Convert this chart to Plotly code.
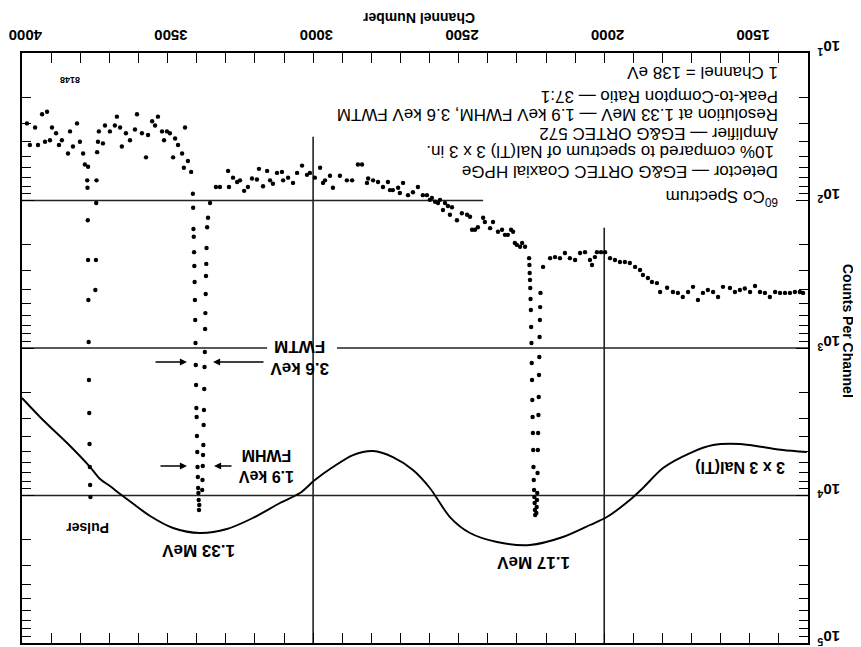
import plotly.graph_objects as go

# ---------------- data ----------------
# 60Co spectrum, HPGe detector: continuum points (channel, counts per channel)
cont_ch = [3983, 3973, 3955, 3945, 3931, 3921, 3914, 3904, 3897, 3883, 3873, 3863, 3842, 3835,
           3825, 3811, 3801, 3790, 3784, 3773,
           3742, 3739, 3736, 3722, 3715, 3698, 3681, 3674, 3663, 3657, 3643, 3629, 3612, 3605,
           3588, 3574, 3567, 3553, 3543, 3533, 3519, 3512, 3502, 3492, 3481, 3474, 3464, 3450,
           3444, 3440, 3430, 3419,
           3334, 3320, 3292, 3289, 3275, 3261, 3251, 3237, 3224, 3210, 3193, 3186, 3172, 3158,
           3148, 3138, 3124, 3107, 3103, 3086, 3069, 3055, 3038, 3021, 3011, 2994, 2976, 2966,
           2959, 2942, 2932, 2908, 2884, 2866, 2846, 2832, 2815, 2811, 2794, 2777, 2760, 2743,
           2736, 2726, 2708, 2702, 2691, 2674, 2657, 2640, 2623, 2609, 2599, 2592, 2581, 2571,
           2564, 2554, 2547, 2537, 2530, 2523, 2506, 2489, 2471, 2461, 2454, 2444, 2434, 2416,
           2410, 2392, 2382, 2365, 2351, 2341, 2331, 2320, 2313, 2307, 2300, 2289, 2282, 2272,
           2210, 2186, 2169, 2152, 2135, 2118, 2100, 2083, 2066, 2049, 2042, 2032, 2025, 2011,
           1997, 1980, 1963, 1946, 1929, 1912, 1894, 1877, 1867, 1850, 1836, 1819,
           1808, 1784, 1764, 1747, 1730, 1712, 1695, 1678, 1661, 1644, 1626, 1609, 1592, 1568,
           1551, 1534, 1517, 1499, 1482, 1465, 1448, 1431, 1413, 1396, 1379, 1362, 1345, 1328,
           1317]
cont_counts = [30, 42, 32, 42, 26, 40, 25, 39, 32, 35, 42, 39, 48, 34,
               43, 30, 40, 48, 57, 59,
               47, 40, 34, 41, 31, 34, 31, 27, 32, 43, 35, 39, 33, 26,
               35, 51, 36, 29, 31, 27, 34, 39, 34, 35, 51, 38, 42, 48,
               60, 32, 54, 64,
               81, 81, 63, 81, 70, 75, 73, 86, 81, 71, 72, 61, 80, 63,
               73, 77, 65, 64, 73, 70, 76, 65, 58, 67, 65, 70, 60, 76,
               73, 68, 82, 68, 73, 73, 57, 57, 76, 71, 73, 75, 81, 75,
               85, 85, 82, 89, 76, 92, 88, 81, 92, 92, 99, 96, 102, 104,
               99, 116, 104, 109, 125, 111, 136, 122, 125, 129, 158, 158, 152, 131,
               140, 154, 140, 163, 158, 171, 171, 158, 163, 194, 200, 206, 194, 206,
               282, 246, 242, 246, 227, 246, 253, 227, 224, 253, 274, 242, 224, 224,
               224, 246, 253, 261, 261, 265, 282, 296, 320, 335, 357, 363,
               417, 390, 417, 423, 451, 417, 385, 473, 423, 404, 417, 451, 385, 392,
               417, 404, 395, 417, 380, 417, 423, 451, 417, 423, 423, 423, 417, 417,
               423]

# pulser peak
pulser_ch = [3776, 3775, 3774, 3773, 3772, 3771, 3770, 3769, 3768, 3767, 3766, 3765,
             3748, 3746, 3745, 3744]
pulser_counts = [73, 82, 136, 253, 473, 911, 1648, 2760, 4480, 6410, 8490, 10250,
                 404, 253, 104, 73]

# 1.33 MeV peak
peak133_ch = [3413, 3412, 3411, 3410, 3409, 3408, 3407, 3406, 3405, 3404, 3403, 3402, 3401,
              3400, 3399, 3398, 3397, 3396, 3395, 3394, 3393, 3392, 3391,
              3381, 3380, 3379, 3378, 3377, 3376, 3375, 3374, 3373, 3372, 3371, 3370, 3369,
              3368, 3367, 3366, 3364, 3361, 3354]
peak133_counts = [90, 112, 156, 176, 224, 278, 357, 473, 646, 925, 1304, 1782, 2553,
                  2938, 3951, 5073, 6414, 7497, 8897, 9621, 10730, 12540, 11600,
                  9180, 7853, 6310, 5317, 4548, 3328, 2633, 1897, 1346, 1065, 744, 580, 430,
                  325, 269, 210, 152, 131, 104]

# 1.17 MeV peak
peak117_ch = [2258, 2257, 2256, 2255, 2254, 2253, 2252, 2251, 2250, 2249, 2248, 2247, 2246,
              2245, 2244, 2243, 2242, 2241, 2240, 2239, 2238, 2237,
              2233, 2232, 2231, 2230, 2229, 2228, 2227, 2226, 2225, 2224, 2223, 2222, 2221,
              2220, 2219]
peak117_counts = [246, 274, 310, 346, 392, 465, 553, 721, 925, 1264, 1648, 2253, 2938,
                  3771, 4917, 6414, 7853, 9180, 10245, 11245, 12540, 13560,
                  13140, 11970, 10730, 9621, 7040, 4917, 3771, 2847, 2150, 1525, 1152, 843, 646,
                  528, 423]

# 3 x 3 NaI(Tl) spectrum (smooth curve)
nai_ch = [4000, 3928, 3845, 3766, 3732, 3698, 3663, 3612, 3560, 3481, 3389, 3296, 3207, 3114,
          3045, 2994, 2932, 2863, 2794, 2726, 2657, 2599, 2530, 2461, 2368, 2255, 2142, 2049,
          1991, 1912, 1867, 1798, 1705, 1626, 1534, 1455, 1386, 1304]
nai_counts = [2183, 3078, 4408, 6414, 7734, 8623, 9772, 11600, 13770, 16610, 17960, 16870,
              14210, 11245, 9621, 7853, 6414, 5317, 4994, 5487, 6718, 8897, 14000, 17960,
              20670, 21650, 19120, 15850, 14000, 10730, 8897, 6512, 5153, 4548, 4477, 4694,
              4917, 5073]

# axis ticks
x_major = [4000, 3500, 3000, 2500, 2000, 1500]
x_minor = list(range(1300, 4001, 100))
y_major = [10, 100, 1000, 10000, 100000]
y_labels = ["10<sup>1</sup>", "10<sup>2</sup>", "10<sup>3</sup>", "10<sup>4</sup>", "10<sup>5</sup>"]
y_minor = [k * 10 ** e for e in range(1, 5) for k in range(2, 10)]

# reference lines: (channels, counts) segments
ref_lines = [
    ([4000, 2416], [100, 100]),
    ([4000, 3158], [1000, 1000]),
    ([2918, 1300], [1000, 1000]),
    ([4000, 1300], [10000, 10000]),
    ([3000, 3000], [37, 100000]),
    ([2000, 2000], [153, 100000]),
]

info_lines = [
    ("1 Channel = 138 eV", 73, 780),
    ("Peak-to-Compton Ratio — 37:1", 96, 780),
    ("Resolution at 1.33 MeV — 1.9 keV FWHM, 3.6 keV FWTM", 115, 780),
    ("Amplifier — EG&G ORTEC 572", 133, 780),
    ("10% compared to spectrum of NaI(Tl) 3 x 3 in.", 152, 776),
    ("Detector — EG&G ORTEC Coaxial HPGe", 172, 780),
    ("<sup>60</sup>Co Spectrum", 198, 780),
]

# ---------------- figure ----------------
PAGE_W, PAGE_H = 861, 647
OFF = 8                      # default page (body) margin around the plot div
L, R, T, B = 22, 808, 53, 643  # plot-area edges in page pixels
FONT = "Liberation Sans, Arial, sans-serif"


def PX(px):
    return (px - L) / (R - L)


def PY(py):
    return (B - py) / (B - T)


fig = go.Figure()

for xs, ys in ref_lines:
    fig.add_trace(go.Scatter(x=xs, y=ys, mode="lines",
                             line=dict(color="#222", width=1.6), hoverinfo="skip"))

fig.add_trace(go.Scatter(x=nai_ch, y=nai_counts, mode="lines",
                         line=dict(color="black", width=1.9, shape="spline", smoothing=0.8),
                         hoverinfo="skip"))

for xs, ys in [(cont_ch, cont_counts), (pulser_ch, pulser_counts),
               (peak133_ch, peak133_counts), (peak117_ch, peak117_counts)]:
    fig.add_trace(go.Scatter(x=xs, y=ys, mode="markers",
                             marker=dict(color="black", size=4.4, line=dict(width=0))))

ann = []
for txt, py, right in info_lines:
    ann.append(dict(text=txt, x=PX(right), y=PY(py), xref="paper", yref="paper",
                    xanchor="right", yanchor="middle", textangle=180, showarrow=False,
                    font=dict(family=FONT, size=17, color="black")))


def label(txt, px, py, size=16, angle=180, bold=True):
    ann.append(dict(text=txt, x=PX(px), y=PY(py), xref="paper", yref="paper",
                    xanchor="center", yanchor="middle", textangle=angle, showarrow=False,
                    font=dict(family=FONT, size=size, color="black",
                              weight="bold" if bold else "normal")))


label("Pulser", 88, 528, size=14)
label("1.33 MeV", 199, 551, size=17)
label("1.17 MeV", 534, 563, size=17)
label("1.9 keV<br>FWHM", 267, 466, size=16)
label("3.6 keV<br>FWTM", 300, 358, size=17)
label("3 x 3 NaI(Tl)", 740, 468, size=16)
label("8148", 70, 80, size=9)
label("Channel Number", 419, 18, size=14)
label("Counts Per Channel", 848, 331, size=14, angle=90)


def arrow(head, tail, py):
    ann.append(dict(text="", x=PX(head), y=PY(py), xref="paper", yref="paper",
                    ax=tail - head, ay=0, showarrow=True, arrowhead=2, arrowsize=1.1,
                    arrowwidth=1.3, arrowcolor="black"))


arrow(187, 159, 466)
arrow(214, 233, 466)
arrow(187, 154, 362)
arrow(213, 265, 362)

tickfont = dict(family=FONT, size=15, color="black", weight="bold")

fig.update_layout(
    width=PAGE_W - OFF, height=PAGE_H - OFF, template="none",
    margin=dict(l=L - OFF, r=PAGE_W - R, t=T - OFF, b=PAGE_H - B, autoexpand=False),
    paper_bgcolor="white", plot_bgcolor="white", showlegend=False,
    annotations=ann,
    xaxis=dict(range=[4000, 1300], side="top", tickmode="array", tickvals=x_major,
               ticks="inside", ticklen=10, tickwidth=1.4, tickcolor="black",
               minor=dict(tickmode="array", tickvals=x_minor, ticks="inside", ticklen=10,
                          tickwidth=1.4, tickcolor="black", showgrid=False),
               tickangle=180, tickfont=tickfont, ticklabelstandoff=0, ticklabelshift=-20,
               ticklabeloverflow="allow",
               showline=True, linecolor="black", linewidth=2, mirror="ticks",
               showgrid=False, zeroline=False, automargin=False),
    yaxis=dict(type="log", range=[5, 1], side="right", tickmode="array",
               tickvals=y_major, ticktext=y_labels,
               ticks="inside", ticklen=12, tickwidth=1.4, tickcolor="black",
               minor=dict(tickmode="array", tickvals=y_minor, ticks="inside", ticklen=9,
                          tickwidth=1.3, tickcolor="black", showgrid=False),
               tickangle=180, tickfont=tickfont, ticklabelstandoff=27, ticklabelshift=2,
               ticklabeloverflow="allow",
               showline=True, linecolor="black", linewidth=2, mirror="ticks",
               showgrid=False, zeroline=False, automargin=False),
)

fig.write_html("out.html")
